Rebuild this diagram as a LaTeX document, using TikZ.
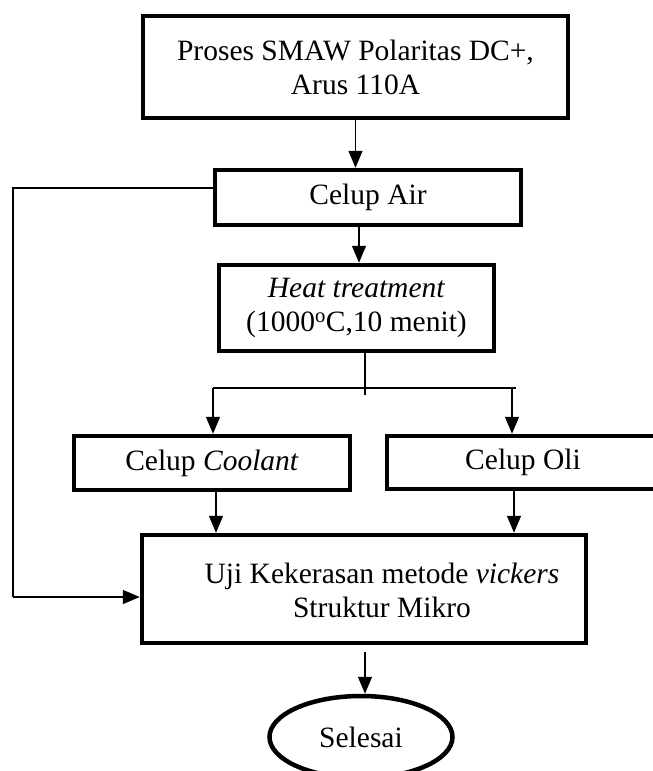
\documentclass[tikz,border=0pt]{standalone}
\usepackage{fontspec}
\setmainfont{Liberation Serif}
\usetikzlibrary{arrows.meta,shapes.geometric}
\begin{document}
\begin{tikzpicture}[x=1pt,y=-1pt,
  every node/.style={font=\fontsize{29.5}{34}\selectfont, align=center},
  box/.style={draw, line width=4.5pt, inner sep=0pt},
  conn/.style={line width=1.5pt},
  arr/.style={conn, -{Triangle[length=17pt,width=14pt]}}]
\useasboundingbox (0,0) rectangle (653,771);
\clip (0,0) rectangle (653,771);
% nodes
\node[box, minimum width=425pt, minimum height=102pt] (proses) at (355.5,67) {Proses SMAW Polaritas DC+,\\Arus 110A};
\node[box, minimum width=306pt, minimum height=55pt] (air) at (368,197.5) {Celup Air};
\node[box, minimum width=275pt, minimum height=86pt] (heat) at (356.5,308) {\textit{Heat treatment}\\(1000\textsuperscript{o}C,10 menit)};
\node[box, minimum width=276pt, minimum height=54pt] (coolant) at (212,463) {Celup \textit{Coolant}};
\node[box, minimum width=272pt, minimum height=53pt] (oli) at (523,462.5) {Celup Oli};
\node[box, minimum width=444pt, minimum height=108pt,
  label={[xshift=18pt, yshift=-1pt]center:{Uji Kekerasan metode \textit{vickers}\\Struktur Mikro}}] (uji) at (364,589) {};
\node[ellipse, draw, line width=4.5pt, minimum width=183pt, minimum height=82pt, inner sep=0pt] (selesai) at (361,737) {Selesai};
% helper coordinates
\coordinate (fbtop) at (13,188);
\coordinate (fbbot) at (13,597);
\coordinate (hx) at (365,0);
\coordinate (splitL) at (213,388);
\coordinate (splitR) at (516,388);
\coordinate (splitEnd) at (365,395);
\coordinate (ujiOut) at (365,652);
\coordinate (airIn) at (359,0);
\coordinate (oliX) at (512,0);
\coordinate (oliY) at (514,0);
\coordinate (coolX) at (216,0);
% connectors
\draw[arr] (proses.south) -- (proses.south |- air.north);
\draw[arr] (airIn |- air.south) -- (airIn |- heat.north);
\draw[conn] (hx |- heat.south) -- (splitEnd);
\draw[conn] (splitL) -- (splitR);
\draw[arr] (splitL) -- (splitL |- coolant.north);
\draw[arr] (oliX |- splitL) -- (oliX |- oli.north);
\draw[arr] (coolX |- coolant.south) -- (coolX |- uji.north);
\draw[arr] (oliY |- oli.south) -- (oliY |- uji.north);
\draw[conn] (fbtop -| air.west) -- (fbtop) -- (fbbot);
\draw[arr] (fbbot) -- (fbbot -| uji.west);
\draw[arr] (ujiOut) -- (ujiOut |- selesai.north);
\end{tikzpicture}
\end{document}
